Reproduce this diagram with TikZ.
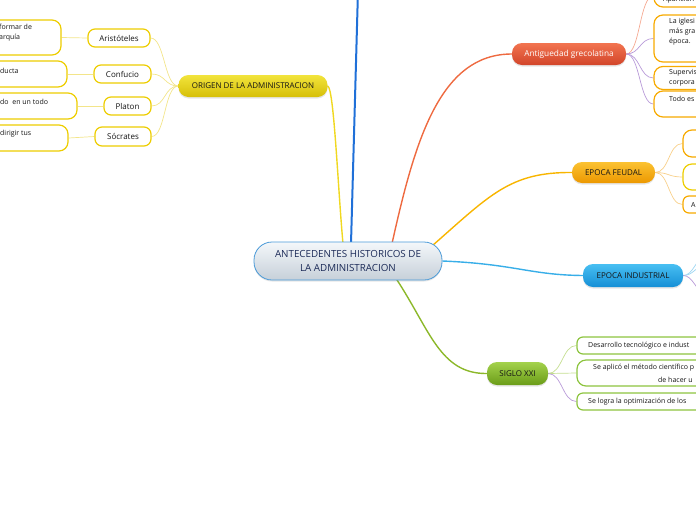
\documentclass[tikz,border=0pt]{standalone}
\usepackage{fontspec}
\setmainfont{Open Sans}
\usetikzlibrary{calc,shadows,backgrounds}
\definecolor{ink}{HTML}{151515}
\definecolor{navy}{HTML}{1B2A57}
\definecolor{gold}{HTML}{EDCD00}
\definecolor{amber}{HTML}{F7AA00}
\definecolor{lgreen}{HTML}{8DC43F}
\definecolor{rootline}{HTML}{4A9AD8}
\definecolor{rootA}{HTML}{F4F7FA}
\definecolor{rootB}{HTML}{C6D0D9}
\definecolor{yelA}{HTML}{F2E43C}
\definecolor{yelB}{HTML}{D6BF08}
\definecolor{redA}{HTML}{F27450}
\definecolor{redB}{HTML}{D2452A}
\definecolor{ambA}{HTML}{FBC232}
\definecolor{ambB}{HTML}{EC9800}
\definecolor{bluA}{HTML}{48BFF2}
\definecolor{bluB}{HTML}{158FD6}
\definecolor{grnA}{HTML}{A4D24C}
\definecolor{grnB}{HTML}{6A9C18}
\definecolor{yelline}{HTML}{F0D820}
\definecolor{blueline}{HTML}{2070D8}
\definecolor{redline}{HTML}{EE6A40}
\definecolor{ambline}{HTML}{F8B500}
\definecolor{skyline}{HTML}{38AEE8}
\definecolor{grnline}{HTML}{8CB82A}
\definecolor{yeltwig}{HTML}{F3E58A}
\definecolor{salmon}{HTML}{F5A890}
\definecolor{lilac}{HTML}{B89AD8}
\definecolor{ambtwig}{HTML}{F8D08A}
\definecolor{skytwig}{HTML}{9ED6F2}
\definecolor{grntwig}{HTML}{C4DE90}

\begin{document}
\begin{tikzpicture}[x=1pt,y=-1pt,font=\fontsize{8}{9}\selectfont,text=ink,
topic/.style={rounded corners=10pt,minimum height=22pt,inner sep=0pt,drop shadow={opacity=0.2,shadow xshift=0pt,shadow yshift=-1.5pt}},
sub/.style={draw=gold,line width=1.2pt,fill=white,rounded corners=7pt,minimum height=18pt,inner sep=0pt},
leaf/.style={sub,rounded corners=9pt},
txt/.style={font=\fontsize{7}{10}\selectfont,inner sep=0pt,anchor=west,align=left},
trunk/.style={line width=1.4pt},
twig/.style={line width=0.7pt}]
\useasboundingbox (0,0) rectangle (696,520);
\clip (0,0) rectangle (696,520);
\node[topic,draw=rootline,line width=0.8pt,top color=rootA,bottom color=rootB,minimum width=188pt,minimum height=38pt,rounded corners=18pt,align=center,font=\fontsize{9.8}{13.5}\selectfont,text=navy] (root) at (348,261) {ANTECEDENTES HISTORICOS DE\\LA ADMINISTRACION};
\node[topic,top color=yelA,bottom color=yelB,minimum width=149pt] (orig) at (253,86) {ORIGEN DE LA ADMINISTRACION};
\node[topic,top color=redA,bottom color=redB,text=white,minimum width=114pt,font=\fontsize{8.3}{9}\selectfont] (ant) at (569,54) {Antiguedad grecolatina};
\node[topic,top color=ambA,bottom color=ambB,minimum width=83pt,minimum height=21pt] (feu) at (613.5,172.5) {EPOCA FEUDAL};
\node[topic,top color=bluA,bottom color=bluB,minimum width=100pt,minimum height=23pt] (ind) at (633,275.5) {EPOCA INDUSTRIAL};
\node[topic,top color=grnA,bottom color=grnB,minimum width=61pt,minimum height=23pt] (sig) at (517.5,373.5) {SIGLO XXI};
\node[sub,minimum width=62pt] (ari) at (119,38) {Aristóteles};
\node[sub,minimum width=57pt] (con) at (122.5,74) {Confucio};
\node[sub,minimum width=47pt] (pla) at (127.5,106) {Platon};
\node[sub,minimum width=56pt,minimum height=19pt] (soc) at (123,136.5) {Sócrates};
\node[leaf,minimum width=101pt,minimum height=35pt] (l1) at (10.5,37.5) {};
\node[txt,anchor=north west] (t1) at (-1,24) {formar de\\arquía};
\node[leaf,minimum width=107pt,minimum height=26pt] (l2) at (13.5,74) {};
\node[txt] (t2) at (0,71) {ducta};
\node[leaf,minimum width=117pt,minimum height=26pt] (l3) at (18.5,106) {};
\node[txt] (t3) at (0,102) {do\ \ en un todo};
\node[leaf,minimum width=108pt,minimum height=26pt] (l4) at (14,138) {};
\node[txt] (t4) at (0,134) {dirigir tus};
\node[leaf,draw=amber,minimum width=106pt,minimum height=22pt] (a1) at (707,-4) {};
\node[txt] (u1) at (663,0) {Aparición};
\node[leaf,draw=amber,minimum width=106pt,minimum height=47pt] (a2) at (707,38.5) {};
\node[txt,anchor=north west] (u2) at (669,18) {La iglesi\\más gra\\época.};
\node[leaf,draw=amber,minimum width=106pt,minimum height=23pt] (a3) at (707,78) {};
\node[txt,anchor=north west] (u3) at (669,69) {Supervis\\corpora};
\node[leaf,draw=amber,minimum width=106pt,minimum height=26pt] (a4) at (707,104) {};
\node[txt] (u4) at (669,99) {Todo es};
\node[leaf,draw=amber,minimum width=77pt,minimum height=27pt] (f1) at (721.5,143.5) {};
\node[leaf,minimum width=77pt,minimum height=26pt] (f2) at (721.5,177) {};
\node[leaf,draw=amber,minimum width=77pt,minimum height=17pt,rounded corners=6pt] (f3) at (721.5,204.5) {};
\node[txt] (v3) at (691,205) {A};
\node[leaf,draw=lgreen,minimum width=183pt,minimum height=17pt,rounded corners=6pt] (s1) at (668.5,345.5) {};
\node[txt] (w1) at (588,346) {Desarrollo tecnológico e indust};
\node[leaf,draw=lgreen,minimum width=183pt,minimum height=26pt] (s2) at (668.5,373) {};
\node[txt] (w2) at (593,368) {Se aplicó el método científico p};
\node[txt] (w3) at (658,380) {de hacer u};
\node[leaf,draw=lgreen,minimum width=183pt,minimum height=17pt,rounded corners=6pt] (s3) at (668.5,401.5) {};
\node[txt] (w4) at (588,402) {Se logra la optimización de los};
\coordinate (up) at (358,-10);
\coordinate (i1) at (704,258);
\coordinate (i2) at (704,266);
\coordinate (i3) at (704,292);
\begin{scope}[on background layer]
\draw[trunk,yelline] (orig.east) .. controls (334,88) and (338,190) .. ($(root.north)+(-5,2)$);
\draw[trunk,blueline,line width=2pt] ($(root.north)+(3,2)$) -- (up);
\draw[trunk,redline] ($(root.north)+(44,2)$) .. controls (415,140) and (440,54) .. (ant.west);
\draw[trunk,ambline] ($(root.north east)+(-10,4)$) .. controls (490,195) and (510,172) .. (feu.west);
\draw[trunk,skyline] (root.east) .. controls (515,264) and (530,275) .. (ind.west);
\draw[trunk,grnline] ($(root.south)+(48,-2)$) .. controls (430,330) and (440,374) .. (sig.west);
\foreach \c in {ari,con,pla,soc} \draw[twig,yeltwig] (orig.west) .. controls +(-14,0) and +(14,0) .. (\c.east);
\foreach \c/\l in {ari/l1,con/l2,pla/l3,soc/l4} \draw[twig,yeltwig] (\c.west) -- (\l.east);
\draw[twig,salmon] (ant.east) .. controls +(14,0) and +(-14,0) .. (a1.west);
\foreach \c in {a2,a3,a4} \draw[twig,lilac] (ant.east) .. controls +(14,0) and +(-14,0) .. (\c.west);
\foreach \c in {f1,f2,f3} \draw[twig,ambtwig] (feu.east) .. controls +(14,0) and +(-14,0) .. (\c.west);
\draw[twig,skytwig] (ind.east) .. controls +(10,0) and +(-8,0) .. (i1);
\draw[twig,skytwig] (ind.east) .. controls +(10,0) and +(-8,0) .. (i2);
\draw[twig,lilac] (ind.east) .. controls +(10,0) and +(-8,0) .. (i3);
\foreach \c in {s1,s2} \draw[twig,grntwig] (sig.east) .. controls +(14,0) and +(-14,0) .. (\c.west);
\draw[twig,lilac] (sig.east) .. controls +(14,0) and +(-14,0) .. (s3.west);
\end{scope}
\end{tikzpicture}
\end{document}
